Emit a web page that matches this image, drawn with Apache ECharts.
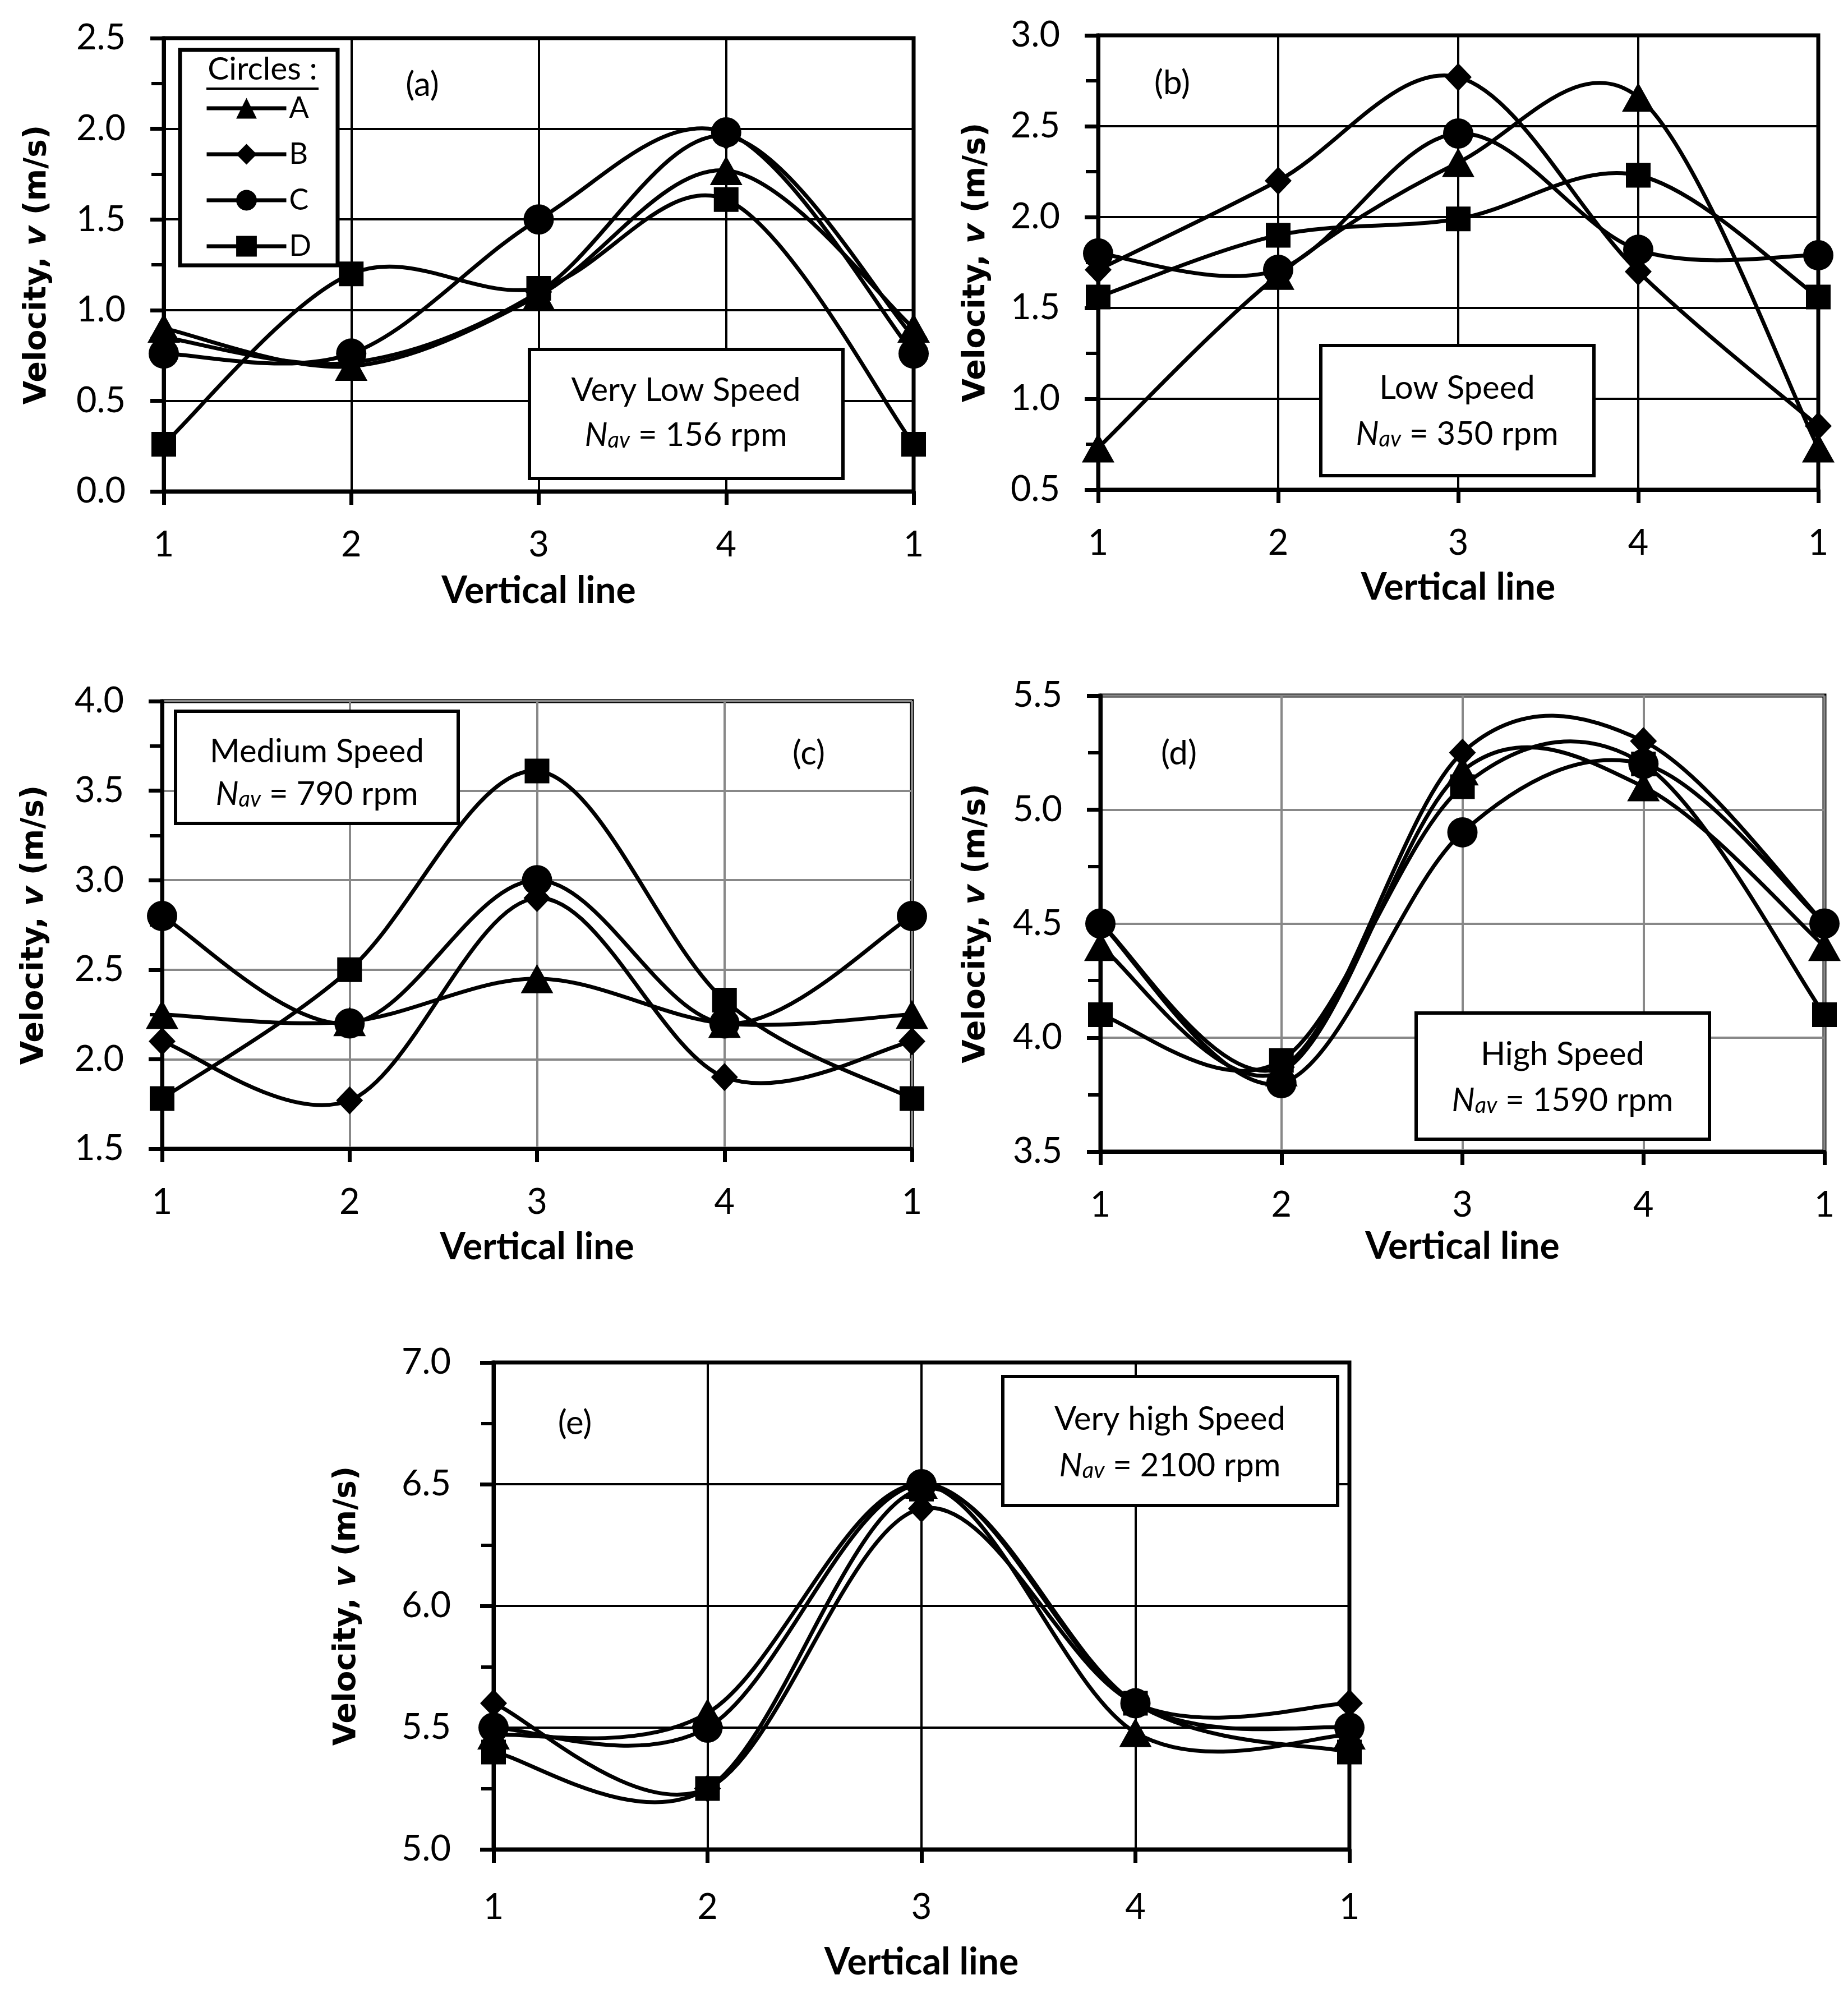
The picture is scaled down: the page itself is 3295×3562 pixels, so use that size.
<!DOCTYPE html>
<html><head><meta charset="utf-8">
<script src="https://cdn.jsdelivr.net/npm/echarts@6/dist/echarts.min.js"></script>
<style>html,body{margin:0;padding:0;background:#fff}#c{width:3295px;height:3562px}</style>
</head><body><div id="c"></div>
<script>
// ---------- DATA ----------
const xs = [1, 2, 3, 4, 5];
const xTickLabels = ['1', '2', '3', '4', '1'];
const seriesNames = ['A', 'B', 'C', 'D'];

const a_A = [0.90, 0.69, 1.08, 1.77, 0.90];
const a_B = [0.85, 0.71, 1.10, 1.96, 0.85];
const a_C = [0.76, 0.76, 1.50, 1.98, 0.76];
const a_D = [0.26, 1.20, 1.12, 1.61, 0.26];

const b_A = [0.73, 1.68, 2.30, 2.66, 0.73];
const b_B = [1.71, 2.20, 2.77, 1.70, 0.85];
const b_C = [1.80, 1.71, 2.46, 1.82, 1.79];
const b_D = [1.56, 1.90, 1.99, 2.23, 1.56];

const c_A = [2.25, 2.21, 2.45, 2.20, 2.25];
const c_B = [2.10, 1.77, 2.90, 1.90, 2.10];
const c_C = [2.80, 2.20, 3.00, 2.20, 2.80];
const c_D = [1.78, 2.50, 3.61, 2.33, 1.78];

const d_A = [4.40, 3.85, 5.17, 5.10, 4.40];
const d_B = [4.50, 3.87, 5.25, 5.30, 4.50];
const d_C = [4.50, 3.80, 4.90, 5.20, 4.50];
const d_D = [4.10, 3.90, 5.10, 5.20, 4.10];

const e_A = [5.47, 5.56, 6.50, 5.48, 5.47];
const e_B = [5.60, 5.25, 6.40, 5.60, 5.60];
const e_C = [5.50, 5.50, 6.50, 5.60, 5.50];
const e_D = [5.40, 5.25, 6.48, 5.60, 5.40];

const panelSeries = [
  [a_A, a_B, a_C, a_D],
  [b_A, b_B, b_C, b_D],
  [c_A, c_B, c_C, c_D],
  [d_A, d_B, d_C, d_D],
  [e_A, e_B, e_C, e_D]
];
const yMins = [0.0, 0.5, 1.5, 3.5, 5.0];
const yMaxs = [2.5, 3.0, 4.0, 5.5, 7.0];
const panelLabels = ['(a)', '(b)', '(c)', '(d)', '(e)'];
const speedNames = ['Very Low Speed', 'Low Speed', 'Medium Speed', 'High Speed', 'Very high Speed'];
const speedRpm = ['156', '350', '790', '1590', '2100'];
const xTitle = 'Vertical line';
const legendTitle = 'Circles :';

// ---------- LAYOUT / STYLE ----------
const grids = [
  {left: 292, top: 68, width: 1337, height: 808},
  {left: 1958, top: 63, width: 1284, height: 810},
  {left: 289, top: 1250, width: 1337, height: 798},
  {left: 1962, top: 1240, width: 1291, height: 813},
  {left: 880, top: 2429, width: 1526, height: 868}
];
const gridColors = ['#000', '#000', '#888', '#888', '#000'];
const yNameCenter = [226, 218, 228, 222, 262];
const xNameCenter = [178, 175, 176, 170, 202];
const xLabelMargin = [64, 64, 64, 64, 72];
const yLabelMargin = [68, 68, 68, 68, 76];
const boxes = [
  {x: 944, y: 623, w: 559, h: 230, cx: 1223, l1: 696, l2: 776},
  {x: 2355, y: 616, w: 487, h: 232, cx: 2598, l1: 692, l2: 774},
  {x: 313, y: 1268, w: 504, h: 200, cx: 565, l1: 1340, l2: 1416},
  {x: 2525, y: 1806, w: 523, h: 225, cx: 2786, l1: 1880, l2: 1962},
  {x: 1788, y: 2454, w: 597, h: 230, cx: 2086, l1: 2530, l2: 2613}
];
const panelLabelPos = [[753, 152], [2090, 149], [1442, 1344], [2102, 1344], [1025, 2538]];
const symbols = ['triangle', 'diamond', 'circle', 'rect'];
const symbolSizes = [[58, 52], [48, 50], 54, 44];
const FONT = 'Lato';
const LINE_W = 7;

const option = {
  animation: false,
  backgroundColor: '#fff',
  grid: [], xAxis: [], yAxis: [], series: [], graphic: []
};

// Excel-style smoothed segment (Catmull-Rom Bezier in pixel space)
function makeCurveRenderer(vals) {
  return function (params, api) {
    const i = params.dataIndex;
    const n = vals.length;
    if (i >= n - 1) return null;
    const P = j => {
      const jj = Math.max(0, Math.min(n - 1, j));
      return api.coord([xs[jj], vals[jj]]);
    };
    const p0 = P(i - 1), p1 = P(i), p2 = P(i + 1), p3 = P(i + 2);
    return {
      type: 'bezierCurve',
      shape: {
        x1: p1[0], y1: p1[1], x2: p2[0], y2: p2[1],
        cpx1: p1[0] + (p2[0] - p0[0]) / 6, cpy1: p1[1] + (p2[1] - p0[1]) / 6,
        cpx2: p2[0] - (p3[0] - p1[0]) / 6, cpy2: p2[1] - (p3[1] - p1[1]) / 6
      },
      style: {stroke: '#000', lineWidth: LINE_W, fill: null, lineCap: 'round'},
      silent: true
    };
  };
}

grids.forEach((g, p) => {
  option.grid.push({
    left: g.left, top: g.top, width: g.width, height: g.height,
    show: true, borderColor: '#000', borderWidth: 7, backgroundColor: 'transparent',
    outerBoundsMode: 'none', containLabel: false
  });
  option.xAxis.push({
    gridIndex: p, type: 'value', min: 1, max: 5, interval: 1,
    axisLine: {show: true, onZero: false, lineStyle: {color: '#000', width: 7}},
    axisTick: {show: true, length: 24, lineStyle: {color: '#000', width: 7}},
    axisLabel: {
      formatter: v => xTickLabels[Math.round(v) - 1],
      fontFamily: FONT, fontSize: 63, color: '#000', margin: xLabelMargin[p]
    },
    splitLine: {show: true, lineStyle: {color: gridColors[p], width: 4}},
    name: xTitle, nameLocation: 'middle', nameGap: xNameCenter[p] - 33,
    nameTextStyle: {fontFamily: FONT, fontWeight: 'bold', fontSize: 66, color: '#000'}
  });
  option.yAxis.push({
    gridIndex: p, type: 'value', min: yMins[p], max: yMaxs[p], interval: 0.5,
    axisLine: {show: true, onZero: false, lineStyle: {color: '#000', width: 7}},
    axisTick: {show: true, length: 24, lineStyle: {color: '#000', width: 7}},
    minorTick: {show: true, splitNumber: 2, length: 22, lineStyle: {color: '#000', width: 6}},
    axisLabel: {
      formatter: v => v.toFixed(1),
      fontFamily: FONT, fontSize: 63, color: '#000', margin: yLabelMargin[p]
    },
    splitLine: {show: true, lineStyle: {color: gridColors[p], width: 4}},
    name: '{b|Velocity, }{i|v}{b| (m/s)}', nameLocation: 'middle', nameRotate: 90,
    nameGap: yNameCenter[p] - 28,
    nameTextStyle: {
      rich: {
        b: {fontFamily: 'DejaVu Sans', fontWeight: 'bold', fontSize: 55, color: '#000'},
        i: {fontFamily: 'DejaVu Sans', fontWeight: 'bold', fontStyle: 'italic', fontSize: 55, color: '#000'}
      }
    }
  });
  panelSeries[p].forEach((vals, k) => {
    option.series.push({
      type: 'custom', name: seriesNames[k] + ' curve', xAxisIndex: p, yAxisIndex: p,
      coordinateSystem: 'cartesian2d',
      data: xs.map((x, i) => [x, vals[i]]),
      encode: {x: 0, y: 1},
      renderItem: makeCurveRenderer(vals),
      silent: true, z: 2
    });
  });
  panelSeries[p].forEach((vals, k) => {
    option.series.push({
      type: 'line', name: seriesNames[k], xAxisIndex: p, yAxisIndex: p,
      data: xs.map((x, i) => [x, vals[i]]),
      symbol: symbols[k], symbolSize: symbolSizes[k], showSymbol: true,
      lineStyle: {color: '#000', width: LINE_W, opacity: 0},
      itemStyle: {color: '#000', borderWidth: 0},
      silent: true, z: 3
    });
  });
  const b = boxes[p];
  option.graphic.push({
    type: 'rect', shape: {x: b.x, y: b.y, width: b.w, height: b.h},
    style: {fill: '#fff', stroke: '#000', lineWidth: 6}, z: 15
  });
  option.graphic.push({
    type: 'text', x: b.cx, y: b.l1, z: 16,
    style: {text: speedNames[p], fontFamily: FONT, fontSize: 58, fill: '#000',
      align: 'center', verticalAlign: 'middle', textAlign: 'center', textVerticalAlign: 'middle'}
  });
  option.graphic.push({
    type: 'text', x: b.cx, y: b.l2, z: 16,
    style: {
      text: '{i|N}{s|av}{n| = ' + speedRpm[p] + ' rpm}',
      rich: {
        i: {fontFamily: FONT, fontStyle: 'italic', fontSize: 58, fill: '#000', color: '#000'},
        s: {fontFamily: FONT, fontStyle: 'italic', fontSize: 40, fill: '#000', color: '#000', verticalAlign: 'bottom', padding: [14, 0, 0, 0]},
        n: {fontFamily: FONT, fontSize: 58, fill: '#000', color: '#000'}
      },
      align: 'center', verticalAlign: 'middle', textAlign: 'center', textVerticalAlign: 'middle'
    }
  });
  option.graphic.push({
    type: 'text', x: panelLabelPos[p][0], y: panelLabelPos[p][1], z: 16,
    style: {text: panelLabels[p], fontFamily: FONT, fontSize: 60, fill: '#000',
      align: 'center', verticalAlign: 'middle', textAlign: 'center', textVerticalAlign: 'middle'}
  });
});

// legend box (panel a)
option.graphic.push({
  type: 'rect', shape: {x: 321, y: 89, width: 281, height: 384},
  style: {fill: '#fff', stroke: '#000', lineWidth: 7}, z: 15
});
option.graphic.push({
  type: 'text', x: 468, y: 124, z: 16,
  style: {text: legendTitle, fontFamily: FONT, fontSize: 57, fill: '#000',
    align: 'center', verticalAlign: 'middle', textAlign: 'center', textVerticalAlign: 'middle'}
});
option.graphic.push({
  type: 'line', shape: {x1: 368, y1: 158, x2: 568, y2: 158},
  style: {stroke: '#000', lineWidth: 4}, z: 16
});
option.legend = {
  show: true, orient: 'vertical', left: 365, top: 167, padding: 0,
  itemWidth: 142, itemHeight: 46, itemGap: 30, z: 20,
  data: seriesNames,
  selectedMode: false,
  lineStyle: {color: '#000', width: LINE_W, opacity: 1},
  itemStyle: {color: '#000', opacity: 1},
  textStyle: {fontFamily: FONT, fontSize: 52, lineHeight: 46, color: '#000'}
};

const chart = echarts.init(document.getElementById('c'), null, {renderer: 'canvas'});
chart.setOption(option);
</script></body></html>
